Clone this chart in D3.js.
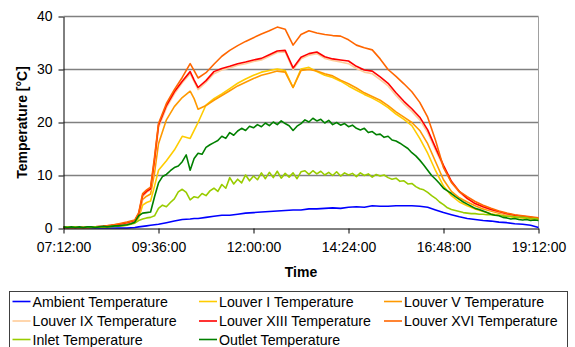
<!DOCTYPE html>
<html>
<head>
<meta charset="utf-8">
<script src="https://cdn.jsdelivr.net/npm/d3@7"></script>
<style>
  body { margin: 0; background: #fff; }
  #chart text { font-family: Arial, "Liberation Sans", sans-serif; fill: #000; }
</style>
</head>
<body>
<div id="chart"></div>
<script>
// time of day in hours (7.2 = 07:12)
const times = [7.2,7.4,7.6,7.8,8.0,8.2,8.4,8.6,8.8,9.0,9.1,9.2,9.3,9.4,9.5,9.6,9.8,10.0,10.2,10.4,10.5,
  10.6,10.8,11.0,11.2,11.4,11.6,11.8,12.0,12.2,12.4,12.6,12.8,13.0,13.2,13.4,13.6,13.8,14.0,14.2,14.4,
  14.6,14.8,15.0,15.2,15.4,15.6,15.8,16.0,16.2,16.4,16.6,16.8,17.0,17.2,17.4,17.6,17.8,18.0,18.2,18.4,
  18.6,18.8,19.0,19.2];

// finer sampling for the noisy inlet / outlet sensors
const timesFine = [7.2,7.3,7.4,7.5,7.6,7.7,7.8,7.9,8.0,8.1,8.2,8.3,8.4,8.5,8.6,8.7,8.8,8.9,9.0,9.1,
  9.2,9.3,9.4,9.5,9.6,9.7,9.8,9.9,10.0,10.1,10.2,10.3,10.4,10.5,10.6,10.7,10.8,10.9,11.0,11.1,
  11.2,11.3,11.4,11.5,11.6,11.7,11.8,11.9,12.0,12.1,12.2,12.3,12.4,12.5,12.6,12.7,12.8,12.9,13.0,13.1,
  13.2,13.3,13.4,13.5,13.6,13.7,13.8,13.9,14.0,14.1,14.2,14.3,14.4,14.5,14.6,14.7,14.8,14.9,15.0,15.1,
  15.2,15.3,15.4,15.5,15.6,15.7,15.8,15.9,16.0,16.1,16.2,16.3,16.4,16.5,16.6,16.7,16.8,16.9,17.0,17.1,
  17.2,17.3,17.4,17.5,17.6,17.7,17.8,17.9,18.0,18.1,18.2,18.3,18.4,18.5,18.6,18.7,18.8,18.9,19.0,19.1,19.2];

const ambient = [0.1,0.1,0.1,0.1,0.1,0.1,0.1,0.1,0.1,0.2, 0.3,0.4,0.5,0.6,0.7, 0.8,1.1,1.4,1.7,1.8, 1.9,
  1.9,2.1,2.3,2.5,2.5, 2.7,2.9,3.0,3.1,3.2, 3.3,3.4,3.5,3.5,3.7, 3.7,3.8,3.9,3.8,4.0, 4.1,4.0,4.3,4.2,4.2,
  4.3,4.3,4.3,4.2,4.0, 3.5,3.0,2.6,2.2,1.9, 1.7,1.5,1.4,1.2,1.1, 0.9,0.8,0.6,0.2];

const louverI = [0.2,0.2,0.2,0.2,0.2,0.3,0.4,0.6,0.8,1.1, 2.0,4.4,4.9,5.2,8.0, 11.0,12.8,14.8,17.4,17.0, 18.5,
  20.0,23.3,24.5,25.4,26.4, 27.4,28.2,28.9,29.5,29.8, 30.1,29.8,26.6,30.1,30.4, 29.6,28.9,28.5,27.8,26.9,
  26.1,25.3,24.6,23.8,22.8, 21.6,20.6,19.4,17.0,14.2, 10.9,8.0,6.2,5.0,4.3, 3.7,3.2,2.8,2.5,2.3,
  2.1,2.0,1.8,1.7];

const louverV = [0.2,0.2,0.2,0.2,0.3,0.3,0.5,0.7,0.9,1.3, 2.5,5.5,6.1,6.5,10.5, 16.0,20.5,23.0,24.7,25.9, 24.5,
  22.5,23.2,24.2,25.1,26.0, 26.9,27.6,28.3,28.9,29.3, 29.7,29.5,26.6,29.8,30.0, 29.7,29.2,28.8,28.0,27.3,
  26.5,25.6,24.9,24.2,23.2, 22.0,21.0,20.0,18.5,16.0, 12.6,9.2,7.0,5.8,5.0, 4.3,3.7,3.3,2.9,2.6,
  2.3,2.1,1.9,1.8];

const louverIX = [0.2,0.2,0.2,0.2,0.3,0.4,0.5,0.8,1.0,1.4, 2.6,6.0,6.8,7.3,12.5, 19.0,22.8,25.4,27.5,29.2, 27.7,
  26.2,27.6,29.2,29.9,30.3, 30.8,31.1,31.5,31.8,32.5, 33.2,33.3,30.0,32.0,32.7, 33.0,32.1,31.7,31.4,31.1,
  30.2,29.5,29.2,28.1,26.9, 25.1,23.5,22.1,20.5,18.1, 14.8,11.6,8.7,6.8,5.6, 4.6,4.0,3.5,3.1,2.7,
  2.4,2.2,2.0,1.8];

const louverXIII = [0.2,0.2,0.2,0.2,0.3,0.4,0.6,0.8,1.1,1.5, 2.8,6.3,7.0,7.5,13.0, 19.5,23.2,25.8,27.8,29.6, 28.0,
  26.6,27.9,29.6,30.2,30.6, 31.1,31.4,31.8,32.1,32.8, 33.5,33.6,30.3,32.3,33.0, 33.3,32.4,32.0,31.8,31.6,
  30.6,29.9,29.7,28.6,27.4, 25.6,24.0,22.6,21.0,18.6, 15.2,11.9,8.9,7.0,5.7, 4.7,4.1,3.6,3.2,2.8,
  2.5,2.3,2.1,1.9];

const louverXVI = [0.2,0.2,0.2,0.2,0.3,0.4,0.6,0.9,1.2,1.6, 3.0,6.6,7.3,7.8,13.5, 19.8,23.6,26.2,28.5,31.1, 29.8,
  28.4,29.4,31.0,32.5,33.6, 34.5,35.3,36.0,36.7,37.3, 38.0,37.6,34.6,36.6,37.3, 36.9,36.6,36.4,36.3,35.6,
  34.6,34.1,33.7,32.0,30.0, 28.7,27.3,25.8,23.8,21.0, 16.6,11.5,8.7,7.0,6.0, 5.1,4.4,3.8,3.3,2.9,
  2.6,2.4,2.2,2.0];

const inlet = [0.2,0.3,0.2,0.3,0.2,0.2,0.3,0.2,0.3,0.3, 0.3,0.3,0.4,0.4,0.5,0.5,0.6,0.8,1.0,1.5,
  1.8,2.0,2.1,2.4,3.8,4.4,4.1,4.9,5.6,6.9, 7.4,6.8,5.4,6.0,5.8,6.6,6.2,7.1,7.6,7.0,
  8.3,7.6,9.6,8.4,9.3,8.6,10.1,9.0,9.9,9.2, 10.5,9.4,10.6,9.6,10.8,9.5,10.4,9.7,10.5,9.4,
  10.7,10.9,10.2,10.9,10.3,10.8,10.1,10.6,10.0,10.7, 9.9,10.5,10.1,10.4,9.8,10.5,10.0,10.3,9.7,10.2,
  9.9,10.1,9.6,9.3,9.5,8.9,9.0,8.4,8.5,7.9, 7.5,7.3,6.8,6.2,5.7,5.0,4.5,3.9,3.6,3.4,
  3.2,3.0,2.9,2.8,2.8,2.7,2.7,2.6,2.6,2.5, 2.5,2.4,2.3,2.3,2.2,2.1,2.1,2.0,1.9,1.9, 1.8];

const outlet = [0.3,0.2,0.3,0.2,0.3,0.2,0.3,0.3,0.2,0.3, 0.4,0.3,0.4,0.5,0.5,0.6,0.7,0.9,1.2,2.4,
  2.9,3.0,3.1,6.0,8.6,9.8,10.2,10.9,11.5,11.8, 12.6,13.9,11.0,13.2,14.2,14.0,15.3,15.8,16.2,16.6,
  17.4,17.0,18.1,17.6,18.4,18.9,18.5,19.3,19.0,19.6, 19.2,19.9,19.4,20.1,19.6,20.3,19.8,19.4,18.5,19.3,
  19.8,20.5,20.1,20.8,20.3,20.6,19.9,20.4,19.6,20.0, 19.5,19.8,19.2,19.5,18.9,18.6,18.9,18.1,18.3,17.7,
  17.8,17.2,17.4,16.7,16.5,16.1,15.6,15.1,14.3,13.7, 12.9,12.0,11.0,10.0,9.3,8.5,7.6,7.1,6.6,6.0,
  5.5,5.0,4.6,4.2,3.8,3.6,3.3,3.0,2.7,2.5, 2.4,2.1,2.0,1.8,1.9,1.7,1.6,1.7,1.5,1.6, 1.5];

const seriesNames = ["Ambient Temperature", "Louver I Temperature", "Louver V Temperature",
  "Louver IX Temperature", "Louver XIII Temperature", "Louver XVI Temperature",
  "Inlet Temperature", "Outlet Temperature"];
const xTicks = [7.2, 9.6, 12.0, 14.4, 16.8, 19.2];
const yTicks = [0, 10, 20, 30, 40];

const series = [
  { name: seriesNames[0], t: times, v: ambient, color: "#0000ff" },
  { name: seriesNames[1], t: times, v: louverI, color: "#ffcc00" },
  { name: seriesNames[2], t: times, v: louverV, color: "#ff9900" },
  { name: seriesNames[3], t: times, v: louverIX, color: "#ffcc99" },
  { name: seriesNames[4], t: times, v: louverXIII, color: "#ff0000" },
  { name: seriesNames[5], t: times, v: louverXVI, color: "#ff6600" },
  { name: seriesNames[6], t: timesFine, v: inlet, color: "#99cc00" },
  { name: seriesNames[7], t: timesFine, v: outlet, color: "#008000" }
];

const W = 575, H = 347;
const plot = { left: 63.5, right: 538.5, top: 16.5, bottom: 228.5 };

const svg = d3.select("#chart").append("svg")
  .attr("width", W)
  .attr("height", H);

const x = d3.scaleLinear().domain([7.2, 19.2]).range([plot.left, plot.right]);
const y = d3.scaleLinear().domain([0, 40]).range([plot.bottom, plot.top]);

function fmtTime(h) {
  const m = Math.round(h * 60);
  const hh = String(Math.floor(m / 60)).padStart(2, "0");
  const mm = String(m % 60).padStart(2, "0");
  return hh + ":" + mm + ":00";
}

// gridlines
svg.append("g")
  .selectAll("line")
  .data(yTicks.filter(d => d > 0))
  .enter()
  .append("line")
  .attr("x1", plot.left)
  .attr("x2", plot.right)
  .attr("y1", d => y(d))
  .attr("y2", d => y(d))
  .attr("stroke", "#808080")
  .attr("stroke-width", 1.3);

// right border of plot area
svg.append("line")
  .attr("x1", plot.right).attr("x2", plot.right)
  .attr("y1", plot.top).attr("y2", plot.bottom)
  .attr("stroke", "#a0a0a0")
  .attr("stroke-width", 1);

// series
const line = d3.line()
  .x(d => x(d[0]))
  .y(d => y(d[1]));

svg.append("g")
  .selectAll("path")
  .data(series)
  .enter()
  .append("path")
  .attr("d", s => line(s.t.map((t, i) => [t, s.v[i]])))
  .attr("fill", "none")
  .attr("stroke", s => s.color)
  .attr("stroke-width", 1.6)
  .attr("stroke-linejoin", "round");

// axes
const xAxis = svg.append("g")
  .attr("transform", `translate(0,${plot.bottom})`)
  .call(d3.axisBottom(x).tickValues(xTicks).tickFormat(fmtTime)
    .tickSize(5).tickSizeOuter(0).tickPadding(9));
const yAxis = svg.append("g")
  .attr("transform", `translate(${plot.left},0)`)
  .call(d3.axisLeft(y).tickValues(yTicks).tickFormat(d3.format("d"))
    .tickSize(5).tickSizeOuter(0).tickPadding(6));

[xAxis, yAxis].forEach(a => {
  a.select(".domain").attr("stroke", "#000");
  a.selectAll(".tick line").attr("stroke", "#000");
  a.selectAll("text").style("font-size", "14px");
});

// axis titles
svg.append("text")
  .attr("x", (plot.left + plot.right) / 2)
  .attr("y", 277)
  .attr("text-anchor", "middle")
  .style("font-size", "14px")
  .style("font-weight", "bold")
  .text("Time");

svg.append("text")
  .attr("transform", `translate(27,${(plot.top + plot.bottom) / 2}) rotate(-90)`)
  .attr("text-anchor", "middle")
  .style("font-size", "14px")
  .style("font-weight", "bold")
  .text("Temperature [°C]");

// legend
const legend = svg.append("g");
legend.append("rect")
  .attr("x", 9.5).attr("y", 291.5)
  .attr("width", 558).attr("height", 70)
  .attr("fill", "#fff")
  .attr("stroke", "#404040")
  .attr("stroke-width", 1);

const colX = [12.5, 199, 384];
const rowY = [301.5, 321, 339.5];

const item = legend.selectAll(".item")
  .data(series)
  .enter()
  .append("g")
  .attr("class", "item")
  .attr("transform", (s, i) => `translate(${colX[i % 3]},${rowY[Math.floor(i / 3)]})`);

item.append("line")
  .attr("x1", 0).attr("x2", 18)
  .attr("stroke", s => s.color)
  .attr("stroke-width", 1.6);

item.append("text")
  .attr("x", 20)
  .attr("dy", "0.36em")
  .style("font-size", "14.2px")
  .text(s => s.name);
</script>
</body>
</html>
